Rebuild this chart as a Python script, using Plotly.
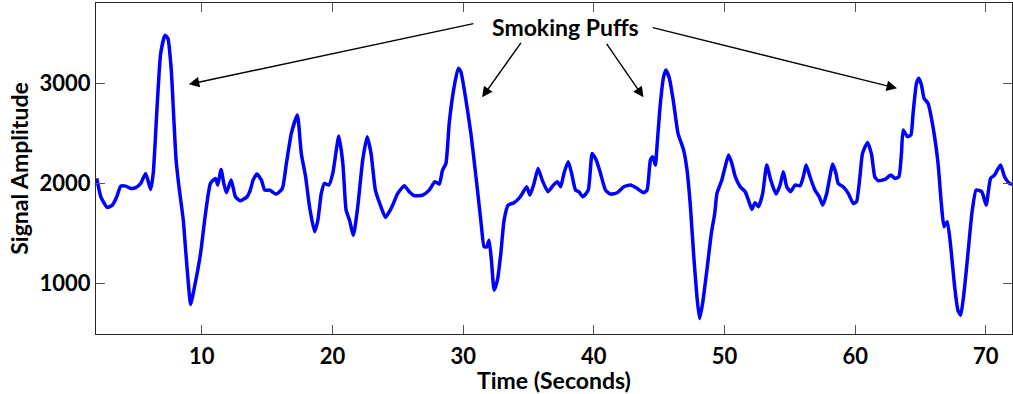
import plotly.graph_objects as go

# Signal trace: time (s) and amplitude samples
time_s = [
    1.96, 2.27, 2.77, 3.15, 3.49, 3.79, 4.18, 4.56, 4.94, 5.32, 5.70, 6.08, 6.28,
    6.59, 6.85, 7.18, 7.40, 7.66, 7.86, 8.03, 8.25, 8.58, 8.78, 8.99, 9.14, 9.44,
    9.90, 10.28, 10.66, 11.05, 11.22, 11.47, 11.68, 11.88, 12.24, 12.57, 12.95,
    13.46, 13.70, 13.92, 14.22, 14.56, 14.81, 15.19, 15.70, 16.16, 16.47, 16.85,
    17.31, 17.61, 17.94, 18.24, 18.63, 18.88, 19.14, 19.39, 19.72, 20.02, 20.48,
    20.79, 21.04, 21.30, 21.60, 21.93, 22.31, 22.65, 22.95, 23.28, 23.66, 24.05,
    24.35, 24.66, 24.99, 25.50, 25.88, 26.26, 26.89, 27.40, 27.84, 28.17, 28.42,
    28.68, 28.93, 29.31, 29.62, 29.82, 30.21, 30.59, 30.89, 31.15, 31.40, 31.60,
    31.81, 31.98, 32.16, 32.37, 32.62, 32.88, 33.13, 33.44, 33.89, 34.27, 34.53,
    34.86, 35.11, 35.42, 35.73, 36.05, 36.49, 36.90, 37.21, 37.46, 37.71, 38.04,
    38.30, 38.60, 38.85, 39.16, 39.57, 39.87, 40.18, 40.51, 40.89, 41.27, 41.78,
    42.29, 42.80, 43.31, 43.82, 44.07, 44.33, 44.50, 44.71, 44.83, 45.09, 45.34,
    45.52, 45.78, 46.11, 46.44, 46.87, 47.13, 47.39, 47.63, 47.89, 48.09, 48.32,
    48.65, 48.99, 49.25, 49.42, 49.79, 50.05, 50.31, 50.56, 50.82, 51.20, 51.58,
    51.83, 52.09, 52.34, 52.60, 52.92, 53.23, 53.54, 53.94, 54.25, 54.50, 54.76,
    55.06, 55.40, 55.78, 56.03, 56.24, 56.54, 56.92, 57.25, 57.51, 57.82, 58.28,
    58.53, 58.70, 59.08, 59.47, 59.85, 60.10, 60.36, 60.56, 60.95, 61.25, 61.50,
    61.76, 62.27, 62.73, 63.04, 63.34, 63.54, 63.67, 64.00, 64.26, 64.43, 64.69,
    64.87, 65.07, 65.27, 65.57, 65.95, 66.34, 66.59, 66.80, 67.05, 67.31, 67.61,
    67.86, 68.07, 68.32, 68.63, 68.93, 69.26, 69.69, 70.02, 70.36, 70.66, 71.12,
    71.43, 71.81, 72.00,
]
amplitude = [
    2050, 1866, 1760, 1783, 1866, 1973, 1973, 1950, 1957, 2000, 2100, 1940, 2100,
    2800, 3300, 3480, 3450, 3133, 2633, 2233, 1967, 1633, 1300, 967, 790, 967,
    1300, 1700, 2000, 2050, 1983, 2140, 2000, 1907, 2033, 1867, 1827,
    1867, 1930, 2033, 2093, 2033, 1933, 1933, 1893, 1950, 2200, 2500,
    2683, 2300, 2067, 1767, 1517, 1633, 1900, 2000, 1983, 2100, 2473,
    2200, 1733, 1633, 1483, 1767, 2233, 2467, 2300, 1933, 1783, 1660,
    1717, 1800, 1900, 1977, 1917, 1877, 1883, 1933, 2017, 1993, 2133,
    2200, 2600, 2967, 3150, 3117, 2833, 2500, 2167, 1867, 1567, 1367,
    1367, 1433, 1233, 933, 1033, 1300, 1633, 1783, 1807, 1850, 1900,
    1967, 1883, 2000, 2150, 2033, 1917, 1983, 2017, 1967, 2100, 2217,
    2100, 1933, 1917, 1867, 1933, 2300, 2233, 2100, 1933, 1893, 1907,
    1967, 1983, 1950, 1907, 1933, 2233, 2267, 2183, 2367, 2800, 3067,
    3133, 3050, 2800, 2500, 2333, 2133, 1767, 1300, 867, 650, 800,
    1133, 1500, 1700, 1900, 2033, 2167, 2283, 2200, 2067, 1967, 1917,
    1833, 1740, 1807, 1767, 1900, 2183, 2033, 1893, 1983, 2117, 1967,
    1917, 1983, 1977, 2067, 2183, 2067, 1933, 1867, 1783, 1900, 2193,
    2100, 2000, 1967, 1900, 1800, 1817, 2067, 2300, 2410, 2290, 2067,
    2027, 2040, 2083, 2050, 2067, 2300, 2533, 2467, 2483, 2700, 3000,
    3050, 2983, 2850, 2800, 2567, 2200, 1800, 1567, 1617, 1367, 967,
    733, 683, 900, 1300, 1700, 1933, 1917, 1783, 2050, 2083, 2183,
    2067, 2000, 1990,
]

x_ticks = [10, 20, 30, 40, 50, 60, 70]
y_ticks = [1000, 2000, 3000]

label_text = "Smoking Puffs"
label_pos = (37.8, 3563)
# (head_x, head_y, tail_x, tail_y) for each arrow from the label
puff_arrows = [
    (9.0, 2990, 30.9, 3600),
    (31.45, 2860, 34.5, 3420),
    (43.8, 2860, 40.9, 3410),
    (63.2, 2950, 44.4, 3560),
]

FONT = "Lato"

fig = go.Figure()
fig.add_trace(go.Scatter(
    x=time_s, y=amplitude, mode="lines",
    line=dict(color="#0000FF", width=3.5, shape="spline", smoothing=0.5),
    showlegend=False, hoverinfo="skip",
))

fig.add_annotation(
    x=label_pos[0], y=label_pos[1], xref="x", yref="y",
    text=label_text, showarrow=False,
    font=dict(family=FONT, size=23, color="black", weight="bold"),
)
for hx, hy, tx, ty in puff_arrows:
    fig.add_annotation(
        x=hx, y=hy, ax=tx, ay=ty, xref="x", yref="y", axref="x", ayref="y",
        text="", showarrow=True, arrowhead=2, arrowsize=1.5, arrowwidth=1.4,
        arrowcolor="black", standoff=0, startstandoff=0,
    )

axis_common = dict(
    showline=True, linecolor="#262626", linewidth=1.2, mirror="ticks",
    ticks="inside", ticklen=9, tickwidth=1, tickcolor="#555555",
    showgrid=False, zeroline=False,
    tickfont=dict(family=FONT, size=22, color="black", weight="bold"),
)

fig.update_xaxes(
    range=[1.9, 72.0], tickvals=x_ticks, ticklabelstandoff=2,
    title=dict(text="Time (Seconds)", standoff=2,
               font=dict(family=FONT, size=23, color="black", weight="bold")),
    **axis_common,
)
fig.update_yaxes(
    range=[495, 3803], tickvals=y_ticks, ticklabelstandoff=0,
    title=dict(text="Signal Amplitude", standoff=4,
               font=dict(family=FONT, size=23, color="black", weight="bold")),
    **axis_common,
)

fig.update_layout(
    width=1013, height=394,
    margin=dict(l=96, r=1, t=3, b=60),
    plot_bgcolor="white", paper_bgcolor="white",
)

fig.write_html("out.html")
